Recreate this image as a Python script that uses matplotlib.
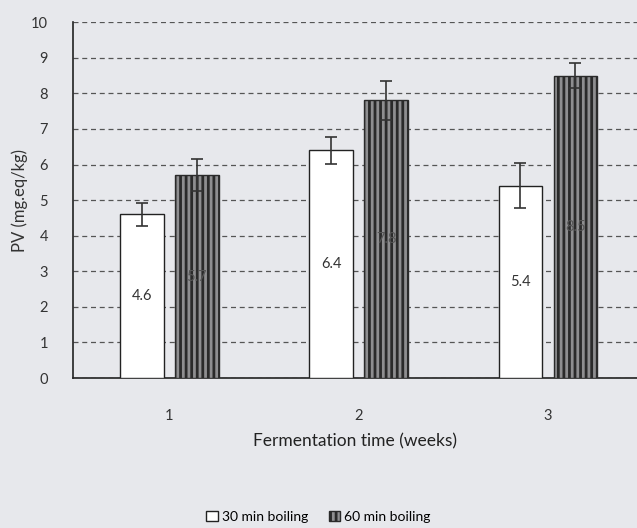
import numpy as np
import matplotlib
matplotlib.use("Agg")
import matplotlib.pyplot as plt
from matplotlib.patches import Patch

plt.rcParams['font.family'] = ['Lato', 'DejaVu Sans']
plt.rcParams['hatch.linewidth'] = 2.0
plt.rcParams['hatch.color'] = '#333333'

weeks = ['1', '2', '3']
pv_30 = [4.6, 6.4, 5.4]
pv_60 = [5.7, 7.8, 8.5]
err_30 = [0.32, 0.38, 0.63]
err_60 = [0.45, 0.55, 0.35]

BG = '#e7e8ec'
DARK = '#8e8e90'

fig = plt.figure(figsize=(6.37, 5.28), dpi=100, facecolor=BG)
ax = fig.add_axes([0.1146, 0.284, 0.885, 0.674], facecolor=BG)

x = np.arange(1, len(weeks) + 1)
w = 0.23
off = 0.145

ax.bar(x - off, pv_30, w, color='white', edgecolor='#222222', linewidth=1.0,
       yerr=err_30, error_kw=dict(ecolor='#333333', elinewidth=1.2, capsize=4, capthick=1.2),
       zorder=3)
ax.bar(x + off, pv_60, w, color=DARK, edgecolor='#2a2a2a', linewidth=1.0,
       hatch='|||', yerr=err_60,
       error_kw=dict(ecolor='#333333', elinewidth=1.2, capsize=4, capthick=1.2),
       zorder=3)

# values written halfway up each bar
for xi, v in zip(x - off, pv_30):
    ax.text(xi, v / 2, f'{v:.1f}', ha='center', va='center', fontsize=10.5,
            color='#333333', zorder=4)
for xi, v in zip(x + off, pv_60):
    ax.text(xi, v / 2, f'{v:.1f}', ha='center', va='center', fontsize=10.5,
            color='#555555', zorder=4)

ax.set_xlim(0.49, 3.47)
ax.set_ylim(0, 10)
ax.set_yticks(range(0, 11))
ax.set_xticks(x)
ax.set_xticklabels(weeks)
ax.tick_params(axis='both', length=0, labelsize=10.5, colors='#333333')
ax.tick_params(axis='y', pad=18)
ax.tick_params(axis='x', pad=22)

ax.yaxis.grid(True, linestyle=(0, (4, 3)), color='#555555', linewidth=0.9)
ax.set_axisbelow(True)
for s in ['top', 'right']:
    ax.spines[s].set_visible(False)
ax.spines['left'].set_color('#222222')
ax.spines['bottom'].set_color('#222222')
ax.spines['left'].set_linewidth(1.2)
ax.spines['bottom'].set_linewidth(1.2)

ax.set_ylabel('PV (mg.eq/kg)', fontsize=12, color='#333333', labelpad=2)
ax.set_xlabel('Fermentation time (weeks)', fontsize=12.5, color='#222222', labelpad=8)

handles = [Patch(facecolor='white', edgecolor='#222222', label='30 min boiling'),
           Patch(facecolor=DARK, edgecolor='#2a2a2a', hatch='|||', label='60 min boiling')]
fig.legend(handles=handles, loc='center', bbox_to_anchor=(0.5, 0.021), ncol=2,
           frameon=False, fontsize=10, handlelength=0.8, handleheight=0.8,
           handletextpad=0.3, columnspacing=1.5)

fig.savefig('out.png', dpi=100, facecolor=BG)
